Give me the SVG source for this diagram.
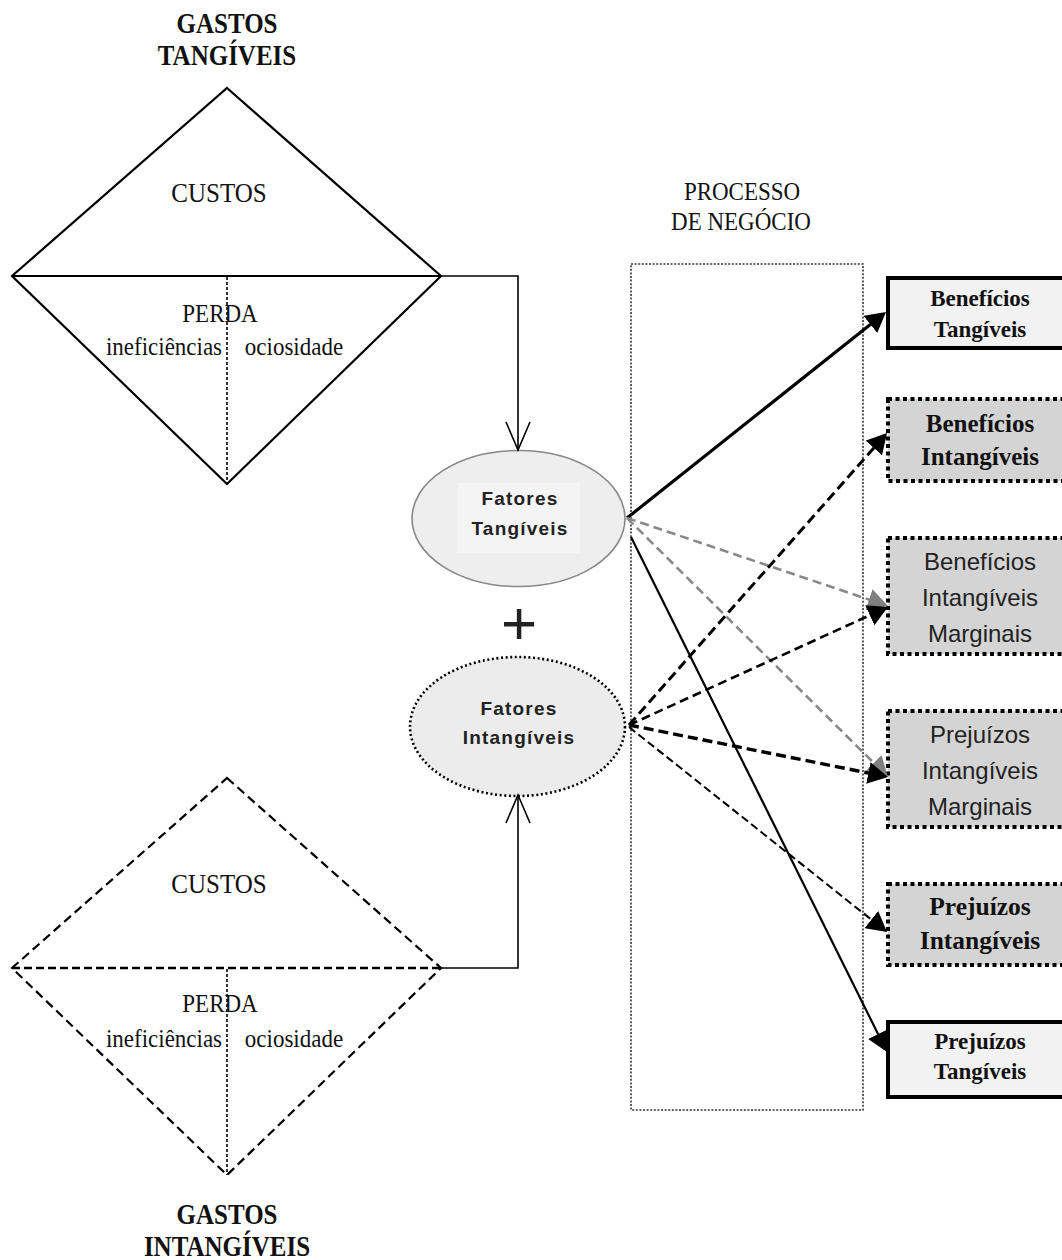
<svg xmlns="http://www.w3.org/2000/svg" width="1062" height="1260" viewBox="0 0 1062 1260">
  <style>
    .serif { font-family: "Liberation Serif", "Times New Roman", serif; fill: #111; }
    .bold { font-weight: bold; }
    .sans { font-family: "Liberation Sans", Arial, sans-serif; fill: #222; }
    .mid { text-anchor: middle; }
    .solid { fill: none; stroke: #000; }
    .centre-split { fill: none; stroke: #000; stroke-width: 1.6; stroke-dasharray: 3 2; }
    .box-tangible { fill: #f2f2f2; stroke: #000; stroke-width: 4; }
    .box-intangible { fill: #d4d4d4; stroke: #000; stroke-width: 4; stroke-dasharray: 4 3.5; }
    .link { fill: none; }
  </style>
  <defs>
    <marker id="head" viewBox="0 0 20 22" markerWidth="20" markerHeight="22" refX="10" refY="11" orient="auto" markerUnits="userSpaceOnUse">
      <path d="M0,0 L20,11 L0,22 z" fill="#000"/>
    </marker>
    <marker id="head-grey" viewBox="0 0 20 22" markerWidth="20" markerHeight="22" refX="10" refY="11" orient="auto" markerUnits="userSpaceOnUse">
      <path d="M0,0 L20,11 L0,22 z" fill="#808080"/>
    </marker>
  </defs>

  <!-- tangible spending diamond -->
  <g id="gastos-tangiveis">
    <text class="serif bold mid" font-size="25" transform="translate(227,33) scale(1,1.15)">GASTOS</text>
    <text class="serif bold mid" font-size="25" transform="translate(227,65) scale(1,1.15)">TANGÍVEIS</text>
    <polygon class="solid" stroke-width="2.2" points="227,88 441,276 227,484 12,276"/>
    <line class="solid" stroke-width="2.2" x1="12" y1="276" x2="441" y2="276"/>
    <line class="centre-split" x1="227" y1="277" x2="227" y2="484"/>
    <text class="serif mid" font-size="25" transform="translate(219,202) scale(1,1.12)">CUSTOS</text>
    <text class="serif mid" font-size="23" transform="translate(220,322) scale(1,1.1)">PERDA</text>
    <text class="serif mid" font-size="23" transform="translate(164,355) scale(1,1.1)">ineficiências</text>
    <text class="serif mid" font-size="23" transform="translate(294,355) scale(1,1.1)">ociosidade</text>
  </g>

  <!-- intangible spending diamond -->
  <g id="gastos-intangiveis">
    <polygon fill="none" stroke="#000" stroke-width="2.2" stroke-dasharray="9 5" points="227,778 441,968 227,1175 12,968"/>
    <line fill="none" stroke="#000" stroke-width="2.6" stroke-dasharray="8 4" x1="12" y1="968" x2="441" y2="968"/>
    <line class="centre-split" x1="227" y1="969" x2="227" y2="1175"/>
    <text class="serif mid" font-size="25" transform="translate(219,893) scale(1,1.12)">CUSTOS</text>
    <text class="serif mid" font-size="23" transform="translate(220,1012) scale(1,1.1)">PERDA</text>
    <text class="serif mid" font-size="23" transform="translate(164,1047) scale(1,1.1)">ineficiências</text>
    <text class="serif mid" font-size="23" transform="translate(294,1047) scale(1,1.1)">ociosidade</text>
    <text class="serif bold mid" font-size="25" transform="translate(227,1224) scale(1,1.15)">GASTOS</text>
    <text class="serif bold mid" font-size="25" transform="translate(227,1256) scale(1,1.15)">INTANGÍVEIS</text>
  </g>

  <!-- factor ellipses -->
  <g id="fatores-tangiveis">
    <ellipse cx="518.5" cy="518.5" rx="106.5" ry="68" fill="#eeeeee" stroke="#888" stroke-width="1.6"/>
    <rect x="458" y="483" width="122" height="70" fill="#f4f4f4"/>
    <text class="sans bold mid" font-size="19" letter-spacing="1.2" x="520" y="505">Fatores</text>
    <text class="sans bold mid" font-size="19" letter-spacing="1.2" x="520" y="535">Tangíveis</text>
  </g>

  <text id="soma" class="sans mid" font-size="62" x="519" y="644" fill="#000">+</text>

  <g id="fatores-intangiveis">
    <ellipse cx="517.5" cy="726.5" rx="107.5" ry="69.5" fill="#ececec" stroke="#000" stroke-width="2.6" stroke-dasharray="2 2.6"/>
    <text class="sans bold mid" font-size="19" letter-spacing="1.2" x="519" y="715">Fatores</text>
    <text class="sans bold mid" font-size="19" letter-spacing="1.2" x="519" y="744">Intangíveis</text>
  </g>

  <!-- business process frame -->
  <g id="processo-de-negocio">
    <text class="serif mid" font-size="23" transform="translate(742,200) scale(1,1.1)">PROCESSO</text>
    <text class="serif mid" font-size="23" transform="translate(741,230) scale(1,1.1)">DE NEGÓCIO</text>
    <rect x="631" y="264" width="232" height="846" fill="none" stroke="#333" stroke-width="1.6" stroke-dasharray="2 1.6"/>
  </g>

  <!-- outcome boxes -->
  <g id="beneficios-tangiveis">
    <rect class="box-tangible" x="888" y="278" width="190" height="70"/>
    <text class="serif bold mid" font-size="23" x="980" y="306">Benefícios</text>
    <text class="serif bold mid" font-size="23" x="980" y="337">Tangíveis</text>
  </g>
  <g id="beneficios-intangiveis">
    <rect class="box-intangible" x="888" y="399" width="190" height="82"/>
    <text class="serif bold mid" font-size="25" x="980" y="432">Benefícios</text>
    <text class="serif bold mid" font-size="25" x="980" y="465">Intangíveis</text>
  </g>
  <g id="beneficios-intangiveis-marginais">
    <rect class="box-intangible" x="888" y="538" width="190" height="116"/>
    <text class="sans mid" font-size="24" x="980" y="570">Benefícios</text>
    <text class="sans mid" font-size="24" x="980" y="606">Intangíveis</text>
    <text class="sans mid" font-size="24" x="980" y="642">Marginais</text>
  </g>
  <g id="prejuizos-intangiveis-marginais">
    <rect class="box-intangible" x="888" y="711" width="190" height="116"/>
    <text class="sans mid" font-size="24" x="980" y="743">Prejuízos</text>
    <text class="sans mid" font-size="24" x="980" y="779">Intangíveis</text>
    <text class="sans mid" font-size="24" x="980" y="815">Marginais</text>
  </g>
  <g id="prejuizos-intangiveis">
    <rect class="box-intangible" x="888" y="884" width="190" height="81"/>
    <text class="serif bold mid" font-size="25.5" x="980" y="915">Prejuízos</text>
    <text class="serif bold mid" font-size="25.5" x="980" y="949">Intangíveis</text>
  </g>
  <g id="prejuizos-tangiveis">
    <rect class="box-tangible" x="888" y="1022" width="190" height="75"/>
    <text class="serif bold mid" font-size="23" x="980" y="1049">Prejuízos</text>
    <text class="serif bold mid" font-size="23" x="980" y="1079">Tangíveis</text>
  </g>

  <!-- connectors -->
  <g id="connectors">
    <!-- spending feeds the factors -->
    <polyline class="solid" stroke-width="1.6" points="441,276 518,276 518,450"/>
    <polyline class="solid" stroke-width="1.6" points="506,422 518,450 530,422"/>
    <polyline class="solid" stroke-width="1.6" points="441,968 518,968 518,795"/>
    <polyline class="solid" stroke-width="1.6" points="506,823 518,795 530,823"/>

    <!-- tangible factors -->
    <line class="link" stroke="#000" stroke-width="3.2" x1="627" y1="518" x2="878.2" y2="318.2" marker-end="url(#head)"/>
    <line class="link" stroke="#888" stroke-width="2.6" stroke-dasharray="9 5" x1="627" y1="518" x2="878.5" y2="602.8" marker-end="url(#head-grey)"/>
    <line class="link" stroke="#888" stroke-width="2.6" stroke-dasharray="9 5" x1="627" y1="518" x2="880.9" y2="770" marker-end="url(#head-grey)"/>
    <line class="link" stroke="#000" stroke-width="2.2" x1="631" y1="537" x2="882.5" y2="1043" marker-end="url(#head)"/>

    <!-- intangible factors -->
    <line class="link" stroke="#000" stroke-width="3" stroke-dasharray="10 5" x1="629" y1="725" x2="880.4" y2="440.5" marker-end="url(#head)"/>
    <line class="link" stroke="#000" stroke-width="2.6" stroke-dasharray="9 5" x1="629" y1="725" x2="878.9" y2="611.1" marker-end="url(#head)"/>
    <line class="link" stroke="#000" stroke-width="3.4" stroke-dasharray="10 5" x1="629" y1="725" x2="878.2" y2="775" marker-end="url(#head)"/>
    <line class="link" stroke="#000" stroke-width="2" stroke-dasharray="8 4" x1="629" y1="727" x2="879.2" y2="925.8" marker-end="url(#head)"/>
  </g>
</svg>
